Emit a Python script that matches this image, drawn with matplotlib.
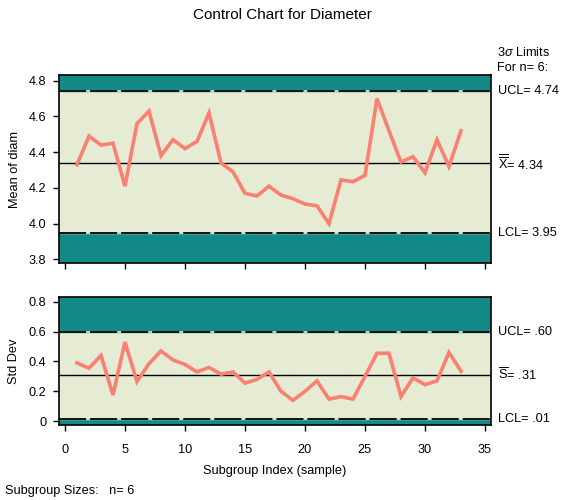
import numpy as np
import matplotlib
matplotlib.use("Agg")
from matplotlib import pyplot as plt

plt.rcParams['font.family'] = ['Liberation Sans', 'DejaVu Sans']
plt.rcParams['mathtext.fontset'] = 'custom'
plt.rcParams['mathtext.rm'] = 'Liberation Sans'
plt.rcParams['mathtext.it'] = 'Liberation Sans:italic'

# subgroup data
subgroup = list(range(1, 34))
mean_diam = [4.33, 4.49, 4.44, 4.45, 4.21, 4.56, 4.63, 4.38, 4.47, 4.42,
             4.46, 4.62, 4.34, 4.29, 4.17, 4.155, 4.21, 4.16, 4.14, 4.11,
             4.10, 4.00, 4.245, 4.235, 4.27, 4.70, 4.52, 4.345, 4.375, 4.285,
             4.47, 4.32, 4.52]
std_dev = [0.39, 0.355, 0.44, 0.175, 0.53, 0.265, 0.385, 0.47, 0.41, 0.38,
           0.33, 0.36, 0.315, 0.33, 0.255, 0.28, 0.33, 0.20, 0.14, 0.20,
           0.27, 0.148, 0.165, 0.148, 0.30, 0.455, 0.455, 0.165, 0.29, 0.245,
           0.27, 0.46, 0.335]

xbar_limits = [3.95, 4.34, 4.74]   # LCL, center, UCL
s_limits = [0.013, 0.31, 0.60]
xbar_labels = ['LCL= 3.95', r'$\overline{\overline{\mathrm{X}}}$= 4.34', 'UCL= 4.74']
s_labels = ['LCL= .01', r'$\overline{\mathrm{S}}$= .31', 'UCL= .60']

teal = '#138A87'
beige = '#E6EBD4'
salmon = '#FA8072'
gapcol = '#BFE3D6'
fs = 9.2

fig = plt.figure(figsize=(5.65, 5.0), dpi=100)
ax1 = fig.add_axes([0.1044, 0.474, 0.7646, 0.376])
ax2 = fig.add_axes([0.1044, 0.15, 0.7646, 0.2554])


def panel(ax, y, lims, labels, ylim, yticks, yticklabels, ylabel):
    lcl, cl, ucl = lims
    ax.set_xlim(-0.5, 35.5)
    ax.set_ylim(*ylim)
    ax.axhspan(ylim[0], lcl, color=teal, zorder=0)
    ax.axhspan(lcl, ucl, color=beige, zorder=0)
    ax.axhspan(ucl, ylim[1], color=teal, zorder=0)
    for v in (lcl, ucl):
        ax.axhline(v, color=gapcol, lw=1.3, zorder=1)
        ax.axhline(v, color='black', lw=1.3, dashes=(15, 2.2), zorder=1)
    ax.axhline(cl, color='black', lw=1.0, zorder=1)
    ax.plot(subgroup, y, color=salmon, lw=2.6, zorder=3, solid_joinstyle='miter')
    ax.set_yticks(yticks)
    ax.set_yticklabels(yticklabels)
    ax.set_xticks(range(0, 36, 5))
    ax.tick_params(direction='out', length=4, width=1, labelsize=fs)
    ax.tick_params(axis='y', pad=5)
    ax.tick_params(axis='x', pad=10)
    for s in ax.spines.values():
        s.set_linewidth(1.2)
    ax.set_ylabel(ylabel, fontsize=fs, labelpad=6)
    tr = ax.get_yaxis_transform()
    for v, t in zip(lims, labels):
        ax.text(1.016, v, t, transform=tr, fontsize=fs, va='center', ha='left')


panel(ax1, mean_diam, xbar_limits, xbar_labels, (3.78, 4.832),
      [3.8, 4.0, 4.2, 4.4, 4.6, 4.8], ['3.8', '4.0', '4.2', '4.4', '4.6', '4.8'],
      'Mean of diam')
ax1.tick_params(labelbottom=False)

panel(ax2, std_dev, s_limits, s_labels, (-0.025, 0.829),
      [0, 0.2, 0.4, 0.6, 0.8], ['0', '0.2', '0.4', '0.6', '0.8'], 'Std Dev')
ax2.set_xlabel('Subgroup Index (sample)', fontsize=fs, labelpad=6)

fig.text(0.5, 0.97, 'Control Chart for Diameter', ha='center', va='center', fontsize=11)
fig.text(0.88, 0.896, r'3$\sigma$ Limits', ha='left', va='center', fontsize=fs)
fig.text(0.88, 0.864, 'For n= 6:', ha='left', va='center', fontsize=fs)
fig.text(0.009, 0.018, 'Subgroup Sizes:   n= 6', ha='left', va='center', fontsize=fs)

fig.savefig('out.png', dpi=100)
